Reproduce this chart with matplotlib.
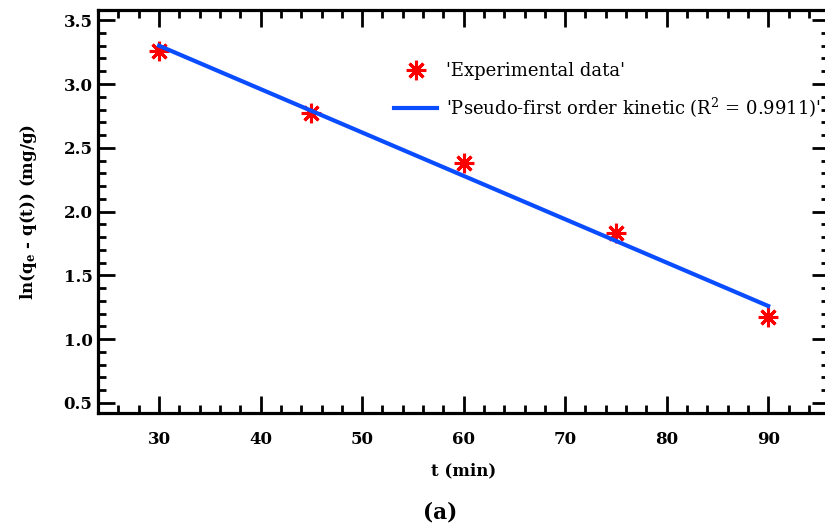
import matplotlib
matplotlib.use("Agg")
import matplotlib.pyplot as plt
from matplotlib.ticker import MultipleLocator

# kinetic data: ln(qe - q(t)) against contact time
t_min = [30, 45, 60, 75, 90]
ln_qe_qt = [3.26, 2.77, 2.38, 1.83, 1.17]

# pseudo-first order fit line (end points)
fit_t = [30, 90]
fit_ln = [3.30, 1.26]
r2 = 0.9911

plt.rcParams['font.family'] = ['DejaVu Serif']
plt.rcParams['mathtext.fontset'] = 'dejavuserif'

fig = plt.figure(figsize=(8.25, 5.27), dpi=100)
ax = fig.add_axes([0.119, 0.216, 0.886, 0.765])

ax.plot(t_min, ln_qe_qt, linestyle='none', marker=(8, 2, 0), markersize=14,
        markeredgewidth=2.2, color='#ff0000', label="'Experimental data'")
ax.plot(fit_t, fit_ln, color='#0a4cff', linewidth=3,
        label="'Pseudo-first order kinetic (R$^{2}$ = %.4f)'" % r2)

ax.set_xlim(24, 96)
ax.set_ylim(0.42, 3.58)
ax.xaxis.set_major_locator(MultipleLocator(10))
ax.xaxis.set_minor_locator(MultipleLocator(2))
ax.yaxis.set_major_locator(MultipleLocator(0.5))
ax.yaxis.set_minor_locator(MultipleLocator(0.1))
ax.yaxis.set_major_formatter(plt.FormatStrFormatter('%.1f'))

for sp in ax.spines.values():
    sp.set_linewidth(2.3)
ax.tick_params(which='both', direction='in', top=True, right=True, width=2)
ax.tick_params(which='major', length=12)
ax.tick_params(which='minor', length=6)
ax.tick_params(axis='x', which='major', pad=13, labelsize=12)
ax.tick_params(axis='y', which='major', pad=4, labelsize=12)
for lab in ax.get_xticklabels() + ax.get_yticklabels():
    lab.set_fontweight('bold')

ax.set_xlabel('t (min)', fontsize=12, fontweight='bold', labelpad=10)
ax.set_ylabel(r'ln(q$_{\mathbf{e}}$ - q(t)) (mg/g)', fontsize=12,
              fontweight='bold', labelpad=18)

leg = ax.legend(loc='upper left', bbox_to_anchor=(0.395, 0.888), frameon=False,
                fontsize=13, handlelength=2.4, handletextpad=0.5,
                labelspacing=0.85, borderaxespad=0)

fig.text(0.533, 0.028, '(a)', fontsize=15.5, fontweight='bold', ha='center',
         va='center')

fig.savefig('out.png', dpi=100)
